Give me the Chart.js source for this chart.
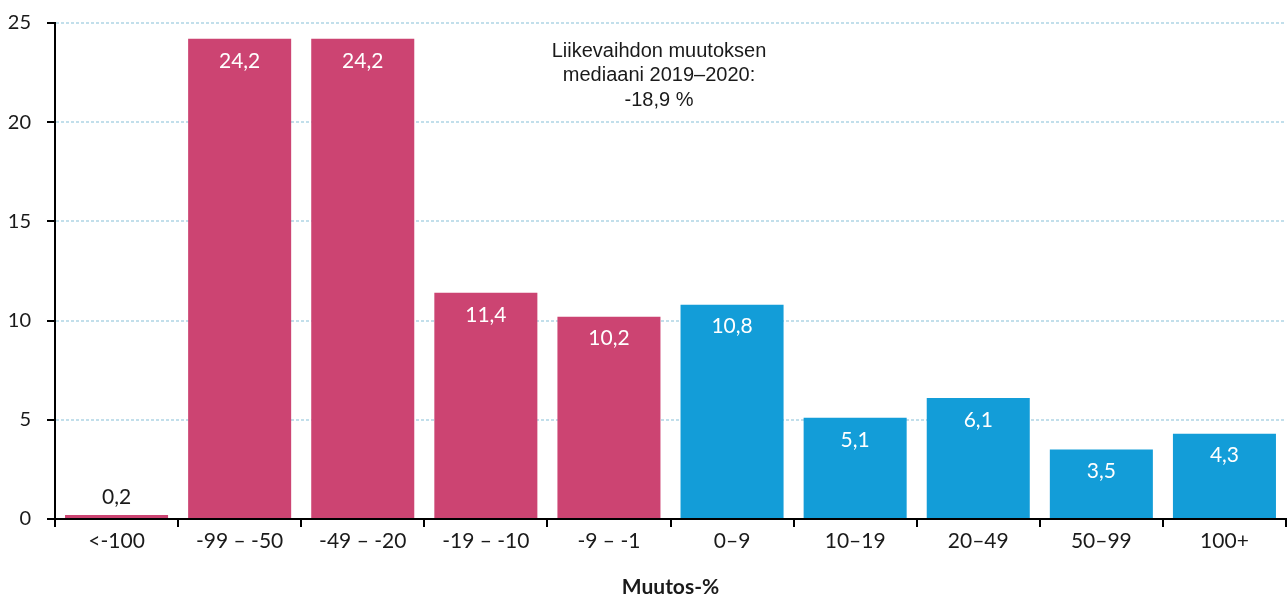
<!DOCTYPE html>
<html>
<head>
<meta charset="utf-8">
<script src="https://cdn.jsdelivr.net/npm/chart.js@4"></script>
<style>
  html, body { margin: 0; padding: 0; background: #fff; }
  #wrap { width: 1288px; height: 596px; }
</style>
</head>
<body>
<div id="wrap"><canvas id="chart-muutos"></canvas></div>
<script>
const categories = ['<-100', '-99 – -50', '-49 – -20', '-19 – -10', '-9 – -1', '0–9', '10–19', '20–49', '50–99', '100+'];
const shares = [0.2, 24.2, 24.2, 11.4, 10.2, 10.8, 5.1, 6.1, 3.5, 4.3];
const yTicks = [0, 5, 10, 15, 20, 25];
const noteLines = ['Liikevaihdon muutoksen', 'mediaani 2019–2020:', '-18,9 %'];

const pink = '#cc4472';
const blue = '#139dd8';
const fam = 'Lato, "Noto Sans", sans-serif';

const fmt = v => v.toFixed(1).replace('.', ',');

// value labels inside the bars (above when the bar is too short)
const barLabels = {
  id: 'barLabels',
  afterDatasetsDraw(chart) {
    const ctx = chart.ctx;
    const meta = chart.getDatasetMeta(0);
    ctx.save();
    ctx.font = '21px ' + fam;
    ctx.textAlign = 'center';
    ctx.textBaseline = 'middle';
    meta.data.forEach((bar, i) => {
      const v = shares[i];
      if (v < 2) {
        ctx.fillStyle = '#1a1a1a';
        ctx.fillText(fmt(v), bar.x, bar.y - 18);
      } else {
        ctx.fillStyle = '#fff';
        ctx.fillText(fmt(v), bar.x, bar.y + 22);
      }
    });
    ctx.restore();
  }
};

const note = {
  id: 'note',
  afterDraw(chart) {
    const ctx = chart.ctx;
    ctx.save();
    ctx.font = '20px "Liberation Sans", Arial, sans-serif';
    ctx.fillStyle = '#1a1a1a';
    ctx.textAlign = 'center';
    ctx.textBaseline = 'middle';
    noteLines.forEach((t, i) => ctx.fillText(t, 659, 51 + i * 24.5));
    ctx.restore();
  }
};

new Chart(document.getElementById('chart-muutos'), {
  type: 'bar',
  data: {
    labels: categories,
    datasets: [{
      data: shares,
      backgroundColor: shares.map((v, i) => i < 5 ? pink : blue),
      categoryPercentage: 1,
      barPercentage: 0.837
    }]
  },
  options: {
    responsive: true,
    maintainAspectRatio: false,
    animation: false,
    layout: { padding: { top: 23, right: 2, left: 0, bottom: 0 } },
    plugins: {
      legend: { display: false },
      tooltip: { enabled: false }
    },
    scales: {
      x: {
        grid: {
          offset: true,
          drawOnChartArea: false,
          drawTicks: true,
          tickLength: 8,
          color: '#000',
          lineWidth: 2
        },
        border: { color: '#000', width: 2 },
        ticks: { color: '#1a1a1a', font: { family: fam, size: 21 }, padding: 2, maxRotation: 0 },
        title: {
          display: true,
          text: 'Muutos-%',
          color: '#1a1a1a',
          font: { family: fam, size: 21, weight: 'bold' },
          padding: { top: 10, bottom: -4 }
        },
        afterFit(scale) {
          scale.height = 77;
          scale.paddingLeft = 0;
          scale.paddingRight = 0;
        }
      },
      y: {
        min: 0,
        max: 25,
        afterBuildTicks(scale) { scale.ticks = yTicks.map(v => ({ value: v })); },
        grid: {
          color: '#c2dfeb',
          lineWidth: 2,
          tickColor: '#000',
          tickBorderDash: [],
          tickWidth: 2,
          tickLength: 8
        },
        border: { color: '#000', width: 2, dash: [3, 2] },
        ticks: { color: '#1a1a1a', font: { family: fam, size: 20 }, padding: 16 },
        afterFit(scale) {
          scale.width = 55;
          scale.paddingTop = 0;
          scale.paddingBottom = 0;
        }
      }
    }
  },
  plugins: [barLabels, note]
});
</script>
</body>
</html>
